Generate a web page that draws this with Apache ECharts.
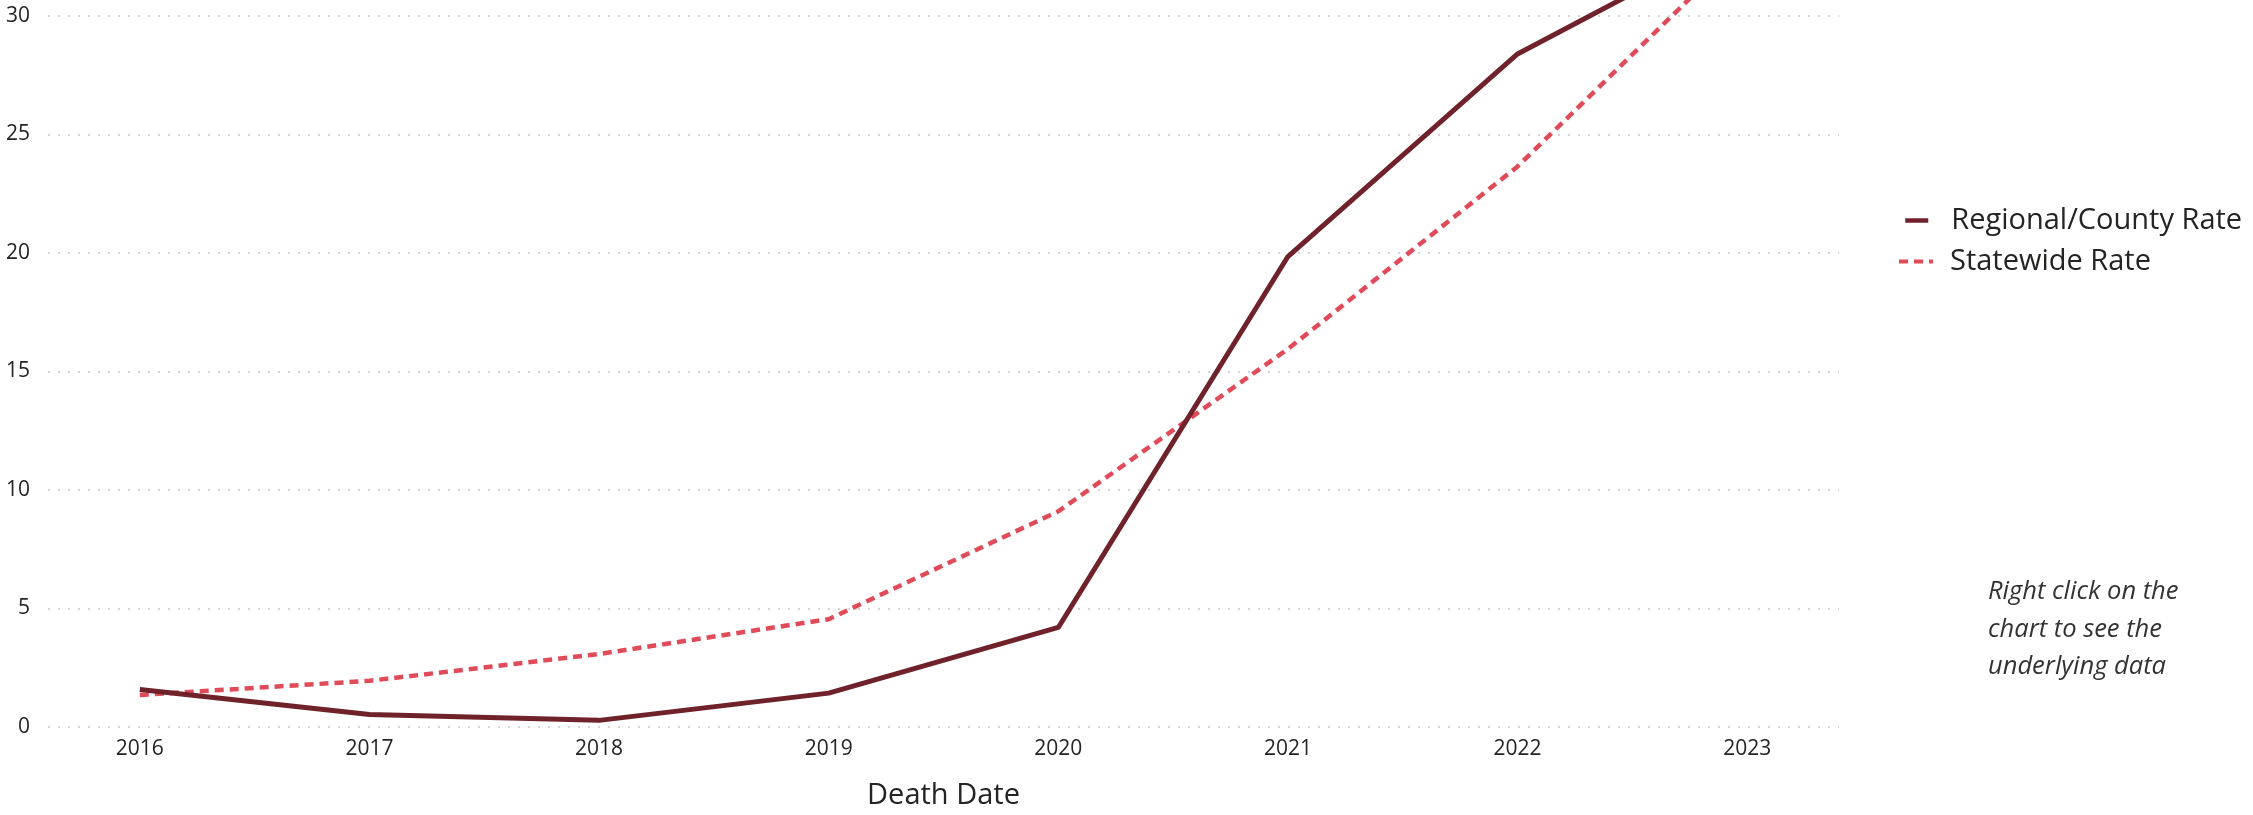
<!DOCTYPE html>
<html>
<head>
<meta charset="utf-8">
<title>Death Date rate</title>
<script src="https://cdn.jsdelivr.net/npm/echarts@6/dist/echarts.min.js"></script>
<style>
    html, body { margin: 0; padding: 0; background: #fff; }
    #main { width: 2253px; height: 815px; }
</style>
</head>
<body>
<div id="main"></div>
<script>
// data
var years = [2016, 2017, 2018, 2019, 2020, 2021, 2022, 2023];
var regionalRate = [1.58, 0.53, 0.28, 1.43, 4.2, 19.85, 28.4, 33.5];
var statewideRate = [1.35, 1.95, 3.08, 4.55, 9.1, 15.95, 23.65, 33.1];
var yTicks = [0, 5, 10, 15, 20, 25, 30];
var seriesNames = ['Regional/County Rate', 'Statewide Rate'];
var note = ['Right click on the', 'chart to see the', 'underlying data'];

var font = '"Open Sans", "Noto Sans", sans-serif';
var textColor = '#252423';

function pairs(xs, ys) {
    var out = [];
    for (var i = 0; i < xs.length; i++) {
        out.push([xs[i], ys[i]]);
    }
    return out;
}

function initChart() {
    var myChart = echarts.init(document.getElementById('main'), null, { renderer: 'canvas' });
    var option = {
        backgroundColor: '#fff',
        animation: false,
        grid: {
            left: 48,
            right: 414,
            top: 16,
            bottom: 85
        },
        // two legends so each swatch can have its own length
        legend: [{
                data: [seriesNames[0]],
                left: 1903,
                top: 206,
                padding: 0,
                itemWidth: 23,
                itemHeight: 20,
                itemStyle: { opacity: 0 },
                lineStyle: { width: 4.5 },
                textStyle: { fontFamily: font, fontSize: 29, color: textColor, padding: [0, 0, 0, 18] }
            },
            {
                data: [seriesNames[1]],
                left: 1897,
                top: 247,
                padding: 0,
                itemWidth: 34,
                itemHeight: 20,
                itemStyle: { opacity: 0 },
                lineStyle: { width: 4 },
                textStyle: { fontFamily: font, fontSize: 29, color: textColor, padding: [0, 0, 0, 12] }
            }
        ],
        xAxis: {
            type: 'value',
            min: 2015.6,
            max: 2023.4,
            name: 'Death Date',
            nameLocation: 'middle',
            nameGap: 54,
            nameTextStyle: { fontFamily: font, fontSize: 29, color: textColor },
            axisLine: { show: false },
            axisTick: { show: false },
            splitLine: { show: false },
            axisLabel: {
                customValues: years,
                margin: 12,
                fontFamily: font,
                fontSize: 21,
                color: textColor,
                formatter: function(v) { return String(v); }
            }
        },
        yAxis: {
            type: 'value',
            min: yTicks[0],
            max: yTicks[yTicks.length - 1],
            interval: 5,
            axisLine: { show: false },
            axisTick: { show: false },
            axisLabel: {
                margin: 18,
                fontFamily: font,
                fontSize: 21,
                color: textColor
            },
            splitLine: {
                lineStyle: { color: '#c8c8c8', width: 1.5, type: [2, 8] }
            }
        },
        series: [{
                name: seriesNames[0],
                type: 'line',
                data: pairs(years, regionalRate),
                showSymbol: false,
                symbol: 'none',
                clip: false,
                color: '#6f2229',
                lineStyle: { color: '#6f2229', width: 5 },
                z: 3
            },
            {
                name: seriesNames[1],
                type: 'line',
                data: pairs(years, statewideRate),
                showSymbol: false,
                symbol: 'none',
                clip: false,
                color: '#e04b5a',
                lineStyle: { color: '#e04b5a', width: 4.5, type: [9, 6] },
                z: 2
            }
        ],
        graphic: [{
            type: 'text',
            left: 1988,
            top: 573,
            style: {
                text: note.join('\n'),
                font: 'italic 25.5px ' + font,
                lineHeight: 37.5,
                fill: '#333'
            }
        }]
    };

    myChart.setOption(option);
}

initChart();
</script>
</body>
</html>
